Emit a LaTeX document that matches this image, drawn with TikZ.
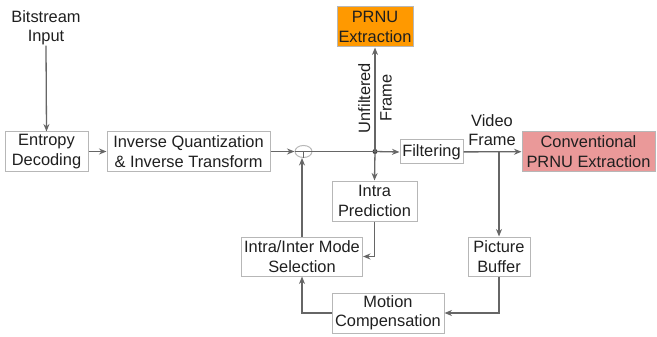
\documentclass[tikz,border=0pt]{standalone}
\usepackage{fontspec}
\setmainfont{Liberation Sans}
\usetikzlibrary{arrows.meta,shapes.geometric}
\definecolor{linec}{HTML}{666666}
\definecolor{boxc}{HTML}{B7B7B7}
\definecolor{txtc}{HTML}{1F1F1F}
\definecolor{prnuc}{HTML}{FF9900}
\definecolor{convc}{HTML}{EA9999}
\tikzset{
  blk/.style={draw=boxc, line width=1pt, inner sep=0pt, align=center, text=txtc},
  lbl/.style={inner sep=0pt, align=center, text=txtc},
  conn/.style={draw=linec, line width=1.3pt, -{Stealth[length=7.5pt,width=6pt]}},
  plain/.style={draw=linec, line width=1.3pt},
}
\begin{document}
\begin{tikzpicture}[x=1pt,y=-1pt,font=\fontsize{16.4}{19.5}\selectfont]
\useasboundingbox (0,0) rectangle (657,337);
\node[lbl] (bit) at (46,28) {Bitstream\\Input};
\node[blk, minimum width=83pt, minimum height=39pt] (ent) at (46.5,151.5) {Entropy\\Decoding};
\node[blk, minimum width=163pt, minimum height=39pt] (iq) at (188.5,151.5) {Inverse Quantization\\\& Inverse Transform};
\node[ellipse, draw=boxc, line width=1pt, minimum width=17pt, minimum height=12pt, inner sep=0pt] (sum) at (303.5,151.5) {};
\node[blk, fill=prnuc, minimum width=76pt, minimum height=40pt] (prnu) at (375,27) {PRNU\\Extraction};
\node[blk, minimum width=63pt, minimum height=24pt] (filt) at (431.5,152) {Filtering};
\node[blk, fill=convc, minimum width=133pt, minimum height=39pt] (conv) at (588.5,151.5) {Conventional\\PRNU Extraction};
\node[blk, minimum width=85pt, minimum height=40pt] (intra) at (374.5,201) {Intra\\Prediction};
\node[blk, minimum width=121pt, minimum height=39pt] (mode) at (302,256.5) {Intra/Inter Mode\\Selection};
\node[blk, minimum width=62pt, minimum height=39pt] (pbuf) at (499,256.5) {Picture\\Buffer};
\node[blk, minimum width=112pt, minimum height=40pt] (mc) at (388,313) {Motion\\Compensation};
\node[circle, fill=black!80, inner sep=0pt, minimum size=5pt] (j) at (375,151.5) {};
\coordinate (b) at (499,151.5);
\node[lbl, rotate=90] (unf) at (375,98) {Unfiltered\\[2pt]Frame};
\node[lbl] (vf) at (492,130) {Video\\Frame};
\path[conn] (bit.south) -- (ent.north);
\path[conn] (ent) -- (iq);
\path[conn] (iq) -- (sum.west);
\path[plain] (sum.west) -- (j.center);
\path[plain] (sum.center) -- (sum.south);
\path[conn] (j.center) -- (filt.west);
\path[conn] (j.center) -- (prnu.south);
\path[conn] (j.center) -- (intra.north);
\path[conn] (filt) -- (conv);
\path[conn] (b) -- (pbuf.north);
\path[conn] (pbuf.south) |- (mc.east);
\path[conn] (mc.west) -| (mode.south);
\path[conn] (intra.south) |- (mode.east);
\path[conn] (mode.north) -- (mode.north |- sum.south);
\end{tikzpicture}
\end{document}
